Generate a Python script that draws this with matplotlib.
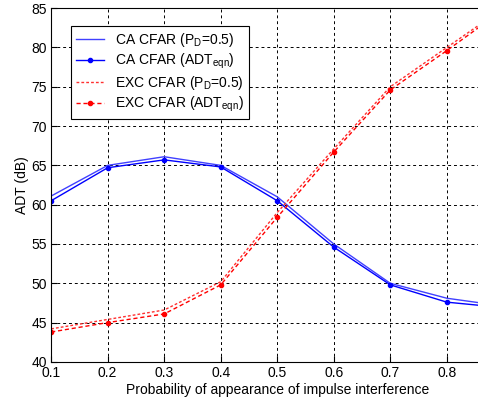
import matplotlib.pyplot as plt
import numpy as np

plt.rcParams['font.family'] = ['Liberation Sans', 'DejaVu Sans']

# probability of impulse interference
p = [0.1, 0.2, 0.3, 0.4, 0.5, 0.6, 0.7, 0.8, 0.9]

# ADT values (dB)
ca_pd = [61.1, 65.0, 66.1, 65.0, 61.0, 55.0, 50.0, 48.1, 47.1]
ca_eqn = [60.5, 64.7, 65.7, 64.8, 60.5, 54.6, 49.8, 47.6, 46.9]
exc_pd = [44.2, 45.4, 46.6, 50.2, 59.0, 67.1, 75.0, 80.0, 85.0]
exc_eqn = [43.8, 45.0, 46.1, 49.8, 58.4, 66.7, 74.6, 79.6, 84.8]

xtick_labels = ['0.1', '0.2', '0.3', '0.4', '0.5', '0.6', '0.7', '0.8', '']

fig = plt.figure(figsize=(4.78, 4.08), dpi=100)
ax = fig.add_axes([0.107, 0.113, 0.946, 0.867])

#blue solid lines for the cell averaging detector
ax.plot(p, ca_pd, color='#4040ff', lw=1.0, label='CA CFAR (P$_\\mathregular{D}$=0.5)')
ax.plot(p, ca_eqn, color='#0000ff', lw=1.0, marker='.', ms=6,
        label='CA CFAR (ADT$_\\mathregular{eqn}$)')

#red dashed lines for the excision detector
ax.plot(p, exc_pd, color='#ff3030', lw=1.0, ls=(0, (2, 1.5)),
        label='EXC CFAR (P$_\\mathregular{D}$=0.5)')
ax.plot(p, exc_eqn, color='#ff0000', lw=1.0, ls=(0, (3, 2)), marker='.', ms=6,
        label='EXC CFAR (ADT$_\\mathregular{eqn}$)')

ax.set_xlim(0.1, 0.9)
ax.set_ylim(40, 85)
ax.set_xticks(np.arange(0.1, 0.95, 0.1))
ax.set_xticklabels(xtick_labels)
ax.set_yticks(np.arange(40, 86, 5))
ax.tick_params(direction='in', labelsize=10, length=4, pad=3)
ax.grid(True, color='black', ls=(0, (3, 3)), lw=0.7)

ax.set_xlabel('Probability of appearance of impulse interference', fontsize=10, labelpad=2)
ax.set_ylabel('ADT (dB)', fontsize=10, labelpad=2)

leg = ax.legend(loc='upper left', bbox_to_anchor=(0.044, 0.95), borderaxespad=0,
                fontsize=10, frameon=True, fancybox=False, edgecolor='black',
                framealpha=1, handlelength=2.0, borderpad=0.35, labelspacing=0.22)
leg.get_frame().set_linewidth(0.8)

fig.savefig('out.png', dpi=100)
